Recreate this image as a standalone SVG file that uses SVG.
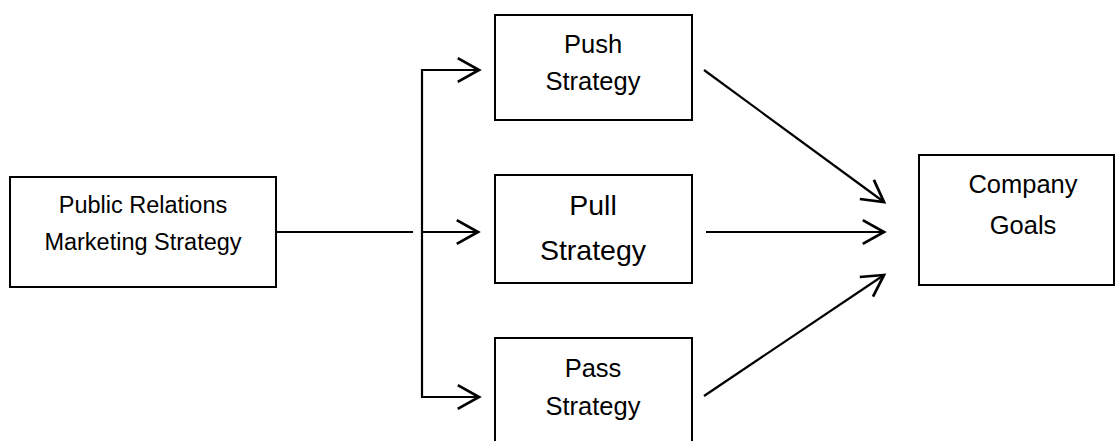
<svg xmlns="http://www.w3.org/2000/svg" width="1116" height="441" viewBox="0 0 1116 441">
<style>
.box{fill:#fff;stroke:#000;stroke-width:2}
.t{font-family:"Liberation Sans",Arial,sans-serif;fill:#000;text-anchor:middle}
.c{fill:none;stroke:#000;stroke-width:2.2}
</style>
<defs>
<marker id="ah" markerUnits="userSpaceOnUse" markerWidth="30" markerHeight="30" viewBox="-20 -12 24 24" refX="0" refY="0" orient="auto" overflow="visible">
<path d="M-17,-9.5 L0,0 L-17,9.5" fill="none" stroke="#000" stroke-width="2.2"/>
</marker>
</defs>
<rect width="1116" height="441" fill="#fff"/>
<g id="connectors">
<line class="c" x1="277" y1="232" x2="413" y2="232"/>
<line class="c" x1="422" y1="69" x2="422" y2="398"/>
<line class="c" x1="421" y1="70" x2="479" y2="70" marker-end="url(#ah)"/>
<line class="c" x1="422" y1="232" x2="478" y2="232" marker-end="url(#ah)"/>
<line class="c" x1="421" y1="397" x2="479" y2="397" marker-end="url(#ah)"/>
<line class="c" x1="704" y1="70" x2="884" y2="202" marker-end="url(#ah)"/>
<line class="c" x1="706" y1="232" x2="884" y2="232" marker-end="url(#ah)"/>
<line class="c" x1="704" y1="396" x2="884" y2="275" marker-end="url(#ah)"/>
</g>
<g id="pr">
<rect class="box" x="10" y="177" width="266" height="110"/>
<text class="t" x="143" y="213" font-size="23.5">Public Relations</text>
<text class="t" x="143" y="250" font-size="23.5">Marketing Strategy</text>
</g>
<g id="push">
<rect class="box" x="495" y="15" width="197" height="105"/>
<text class="t" x="593" y="53" font-size="25.5">Push</text>
<text class="t" x="593" y="90" font-size="25.5">Strategy</text>
</g>
<g id="pull">
<rect class="box" x="495" y="175" width="197" height="108"/>
<text class="t" x="593" y="215" font-size="28.5">Pull</text>
<text class="t" x="593" y="260" font-size="28.5">Strategy</text>
</g>
<g id="pass">
<rect class="box" x="495" y="338" width="197" height="110"/>
<text class="t" x="593" y="377" font-size="25.5">Pass</text>
<text class="t" x="593" y="415" font-size="25.5">Strategy</text>
</g>
<g id="goals">
<rect class="box" x="919" y="155" width="195" height="130"/>
<text class="t" x="1023" y="193" font-size="25.5">Company</text>
<text class="t" x="1023" y="234" font-size="25.5">Goals</text>
</g>
</svg>
